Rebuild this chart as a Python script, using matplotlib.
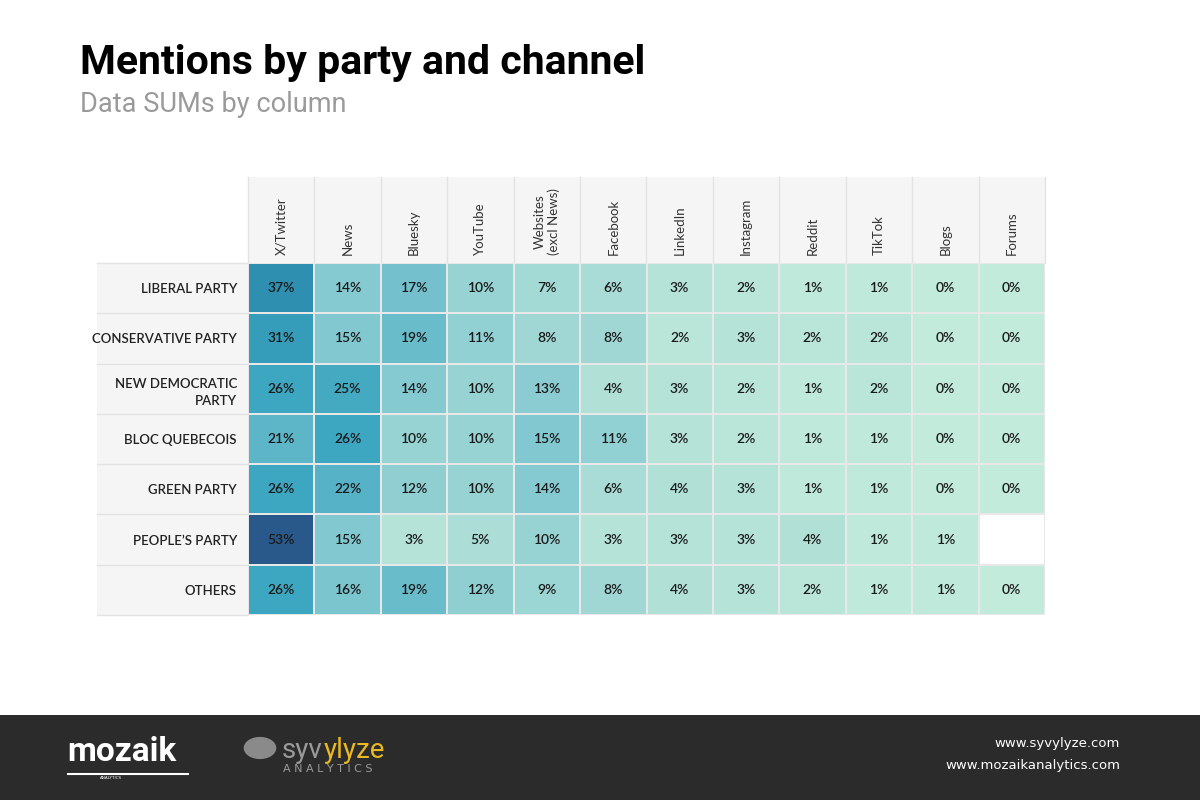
import numpy as np
import matplotlib
matplotlib.use("Agg")
import matplotlib.pyplot as plt
from matplotlib.colors import LinearSegmentedColormap
from matplotlib.patches import Rectangle

channels = ["X/Twitter", "News", "Bluesky", "YouTube", "Websites\n(excl News)", "Facebook",
            "LinkedIn", "Instagram", "Reddit", "TikTok", "Blogs", "Forums"]
parties = ["LIBERAL PARTY", "CONSERVATIVE PARTY", "NEW DEMOCRATIC\nPARTY", "BLOC QUEBECOIS",
           "GREEN PARTY", "PEOPLE\u2019S PARTY", "OTHERS"]
liberal = [37, 14, 17, 10, 7, 6, 3, 2, 1, 1, 0, 0]
conservative = [31, 15, 19, 11, 8, 8, 2, 3, 2, 2, 0, 0]
ndp = [26, 25, 14, 10, 13, 4, 3, 2, 1, 2, 0, 0]
bloc = [21, 26, 10, 10, 15, 11, 3, 2, 1, 1, 0, 0]
green = [26, 22, 12, 10, 14, 6, 4, 3, 1, 1, 0, 0]
peoples = [53, 15, 3, 5, 10, 3, 3, 3, 4, 1, 1, np.nan]
others = [26, 16, 19, 12, 9, 8, 4, 3, 2, 1, 1, 0]

data = np.array([liberal, conservative, ndp, bloc, green, peoples, others], dtype=float)

W, H = 1200, 800
fig = plt.figure(figsize=(12, 8), dpi=100)
fig.patch.set_facecolor("white")

def fx(x): return x / W
def fy(y): return 1 - y / H

fig.patches.append(Rectangle((fx(248), fy(263)), fx(1045 - 248), (263 - 177) / H, transform=fig.transFigure,
                             facecolor="#f5f5f5", edgecolor="none", zorder=-2))
fig.patches.append(Rectangle((fx(97), fy(615)), fx(248 - 97), (615 - 263) / H, transform=fig.transFigure,
                             facecolor="#f5f5f5", edgecolor="none", zorder=-2))
for j in range(13):
    x = 248 + j * (1045 - 248) / 12
    fig.add_artist(plt.Line2D([fx(x), fx(x)], [fy(177), fy(263)], color="#e3e3e3", lw=1, zorder=-1))
for i in range(8):
    y = 263 + i * (615 - 263) / 7
    fig.add_artist(plt.Line2D([fx(97), fx(248)], [fy(y), fy(y)], color="#e3e3e3", lw=1, zorder=-1))

ax = fig.add_axes([fx(248), fy(615), fx(1045 - 248), (615 - 263) / H])
ax.patch.set_alpha(0)
cmap = LinearSegmentedColormap.from_list("tc", [(0, "#c3ebdc"), (0.06, "#b4e2d8"), (0.28, "#82c8d0"),
                                                (0.5, "#3aa5c0"), (0.7, "#2e8fb0"), (1, "#28598a")])
cmap.set_bad("white")
ax.pcolormesh(np.ma.masked_invalid(data), cmap=cmap, vmin=0, vmax=53, edgecolors="#e8e8e8", linewidth=1.2)
ax.set_xlim(0, 12); ax.set_ylim(7, 0)
for i in range(7):
    for j in range(12):
        v = data[i, j]
        if not np.isnan(v):
            ax.text(j + 0.5, i + 0.5, f"{int(v)}%", ha="center", va="center", fontsize=10,
                    color="#1a1a1a", family="Lato", fontweight="semibold")
ax.set_xticks(np.arange(12) + 0.5)
ax.set_xticklabels(channels, rotation=90, fontsize=9.5, color="#333333", family="Lato", va="bottom",
                   multialignment="center")
ax.xaxis.tick_top()
ax.tick_params(axis="x", pad=6, length=0)
ax.set_yticks(np.arange(7) + 0.5)
ax.set_yticklabels(parties, fontsize=9.5, color="#222222", family="Lato", fontweight="semibold", ha="right",
                   linespacing=1.5)
ax.tick_params(axis="y", length=0, pad=8)
for s in ax.spines.values():
    s.set_visible(False)

fig.text(fx(80), fy(63), "Mentions by party and channel", fontsize=29.5, fontweight="bold",
         family="Roboto", va="center", color="black")
fig.text(fx(80), fy(104), "Data SUMs by column", fontsize=19.5, family="Roboto", va="center", color="#9a9a9a")

fig.patches.append(Rectangle((0, 0), 1, 85 / H, transform=fig.transFigure, facecolor="#2b2b2b",
                             edgecolor="none", zorder=-2))
fig.text(fx(67), fy(752), "mozaik", fontsize=24, fontweight="bold", family="Roboto", color="white", va="center")
fig.add_artist(plt.Line2D([fx(68), fx(188)], [fy(774), fy(774)], color="white", lw=1.5))
fig.text(fx(100), fy(778), "ANALYTICS", fontsize=3, color="white", va="center")
fig.text(fx(282), fy(750), "syv", fontsize=20, family="Roboto", color="#9a9a9a", va="center")
fig.text(fx(324), fy(750), "ylyze", fontsize=20, family="Roboto", color="#e8b923", va="center")
fig.text(fx(283), fy(769), "A N A L Y T I C S", fontsize=8, color="#9a9a9a", va="center")
fig.patches.append(plt.Circle((fx(260), fy(748)), 0.013, transform=fig.transFigure, color="#8a8a8a"))
fig.text(fx(1120), fy(744), "www.syvylyze.com", fontsize=9.5, color="white", ha="right", va="center")
fig.text(fx(1120), fy(766), "www.mozaikanalytics.com", fontsize=9.5, color="white", ha="right", va="center")

fig.savefig("out.png", dpi=100)
